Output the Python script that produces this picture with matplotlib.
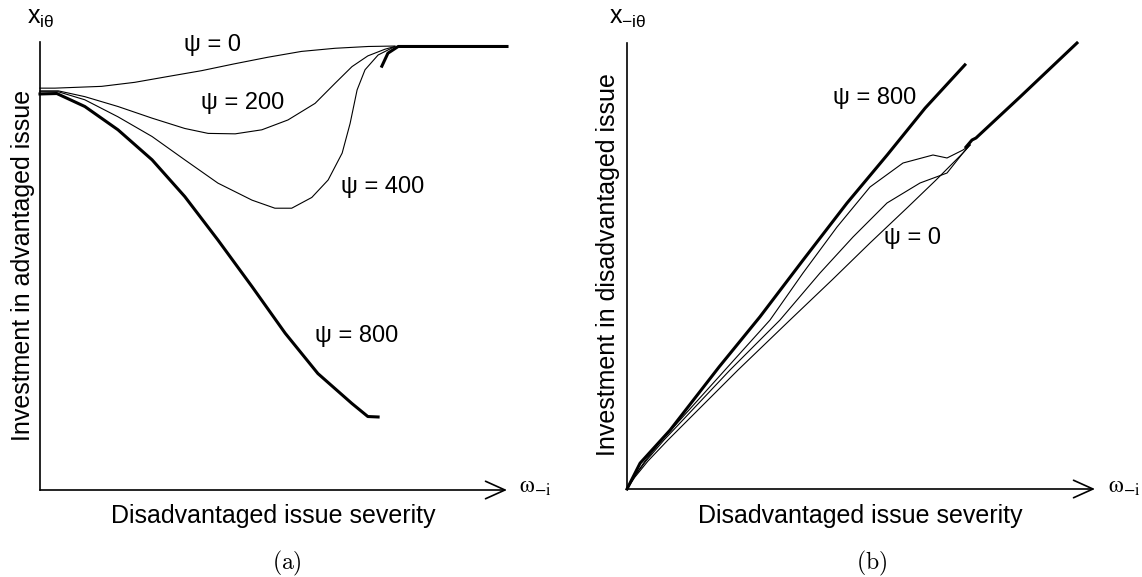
import matplotlib.pyplot as plt

plt.rcParams['font.family'] = ['Liberation Sans', 'DejaVu Sans']
plt.rcParams['mathtext.fontset'] = 'custom'
plt.rcParams['mathtext.rm'] = 'Liberation Sans'
plt.rcParams['mathtext.it'] = 'Liberation Sans:italic'

# ---- panel (a): investment in advantaged issue vs severity (arbitrary units 0-100)
a_x0 = [0, 3.2, 13.2, 20.3, 27.4, 34.6, 41.5, 48.8, 56.0, 63.2, 70.3, 76.0]
a_y0 = [89.7, 89.7, 90.1, 91.0, 92.3, 93.6, 95.1, 96.6, 97.9, 98.6, 99.0, 99.1]
a_x200 = [0, 3.9, 9.6, 16.7, 24.0, 31.0, 36.0, 41.8, 47.5, 53.1, 58.9, 63.2, 66.8, 70.2, 73.9, 76.0]
a_y200 = [89.1, 89.1, 87.8, 85.6, 83.0, 80.7, 79.6, 79.5, 80.4, 82.6, 86.3, 90.8, 94.5, 96.9, 98.4, 99.0]
a_x400 = [0, 3.9, 9.6, 16.7, 24.0, 31.0, 38.1, 45.4, 50.3, 53.9, 58.2, 61.7, 64.7, 66.4, 67.9, 69.6, 72.4, 76.0]
a_y400 = [88.9, 88.9, 87.1, 83.3, 78.9, 73.7, 68.5, 64.7, 62.9, 62.9, 65.3, 69.2, 75.2, 81.8, 89.3, 93.8, 97.1, 99.0]
a_x800 = [0, 3.6, 9.6, 16.7, 24.0, 31.0, 38.1, 45.4, 52.5, 59.5, 66.8, 70.2, 72.4]
a_y800 = [88.4, 88.5, 85.6, 80.4, 73.7, 65.5, 55.8, 45.4, 35.0, 26.0, 19.3, 16.4, 16.3]
a_x_hook = [73.2, 74.5, 76.7, 100]
a_y_hook = [94.6, 97.5, 99.0, 99.0]

# ---- panel (b): investment in disadvantaged issue vs severity
b_x800 = [0, 2.8, 9.2, 19.7, 28.4, 37.6, 47.0, 55.6, 63.7, 72.2]
b_y800 = [0, 5.8, 13.2, 27.4, 38.6, 51.3, 64.1, 74.9, 85.4, 95.1]
b_x400 = [0, 1.50, 3.85, 7.48, 20.94, 30.56, 37.61, 44.87, 51.92, 58.97, 65.38, 68.38, 71.79, 73.29]
b_y400 = [0, 2.69, 6.28, 10.99, 26.68, 37.89, 48.43, 58.74, 67.71, 73.09, 74.89, 74.22, 76.01, 77.13]
b_x200 = [0, 1.50, 4.06, 7.91, 22.01, 32.69, 41.24, 48.29, 55.56, 62.61, 68.38, 71.79, 73.29]
b_y200 = [0, 2.69, 6.28, 10.99, 26.68, 37.89, 48.43, 56.50, 64.13, 68.61, 70.85, 75.34, 77.13]
b_x0 = [0, 1.71, 4.49, 8.76, 23.72, 34.83, 43.80, 51.92, 60.04, 66.03, 71.79, 73.29]
b_y0 = [0, 2.69, 6.28, 10.99, 26.68, 37.89, 46.86, 55.16, 63.23, 69.28, 75.34, 77.13]
b_x_up = [72.44, 73.72, 74.57, 83.97, 96.15]
b_y_up = [76.68, 78.25, 78.70, 87.89, 100]

W, H = 1142, 577
fig = plt.figure(figsize=(W / 100, H / 100), dpi=100)


def fx(p):
    return p / W


def fy(p):
    return 1 - p / H


def make_axes(left, right, top, bottom):
    ax = fig.add_axes([fx(left), fy(bottom), (right - left) / W, (bottom - top) / H])
    ax.set_xlim(0, 100)
    ax.set_ylim(0, 100)
    ax.axis('off')
    ax.plot([0, 0], [0, 100], color='black', lw=1.2, clip_on=False)
    ax.annotate('', xy=(100, 0), xytext=(0, 0), xycoords='data',
                arrowprops=dict(arrowstyle='->,head_length=1.0,head_width=0.45',
                                lw=1.2, color='black', mutation_scale=14,
                                shrinkA=0, shrinkB=0))
    return ax


thin = 0.8
thick = 2.2

ax1 = make_axes(40, 507, 42, 490)
ax1.plot(a_x0, a_y0, color='black', lw=thin, clip_on=False)
ax1.plot(a_x200, a_y200, color='black', lw=thin, clip_on=False)
ax1.plot(a_x400, a_y400, color='black', lw=thin, clip_on=False)
ax1.plot(a_x800, a_y800, color='black', lw=thick, clip_on=False)
ax1.plot(a_x_hook, a_y_hook, color='black', lw=thick, clip_on=False)

ax2 = make_axes(627, 1095, 43, 489)
ax2.plot(b_x0, b_y0, color='black', lw=thin, clip_on=False)
ax2.plot(b_x200, b_y200, color='black', lw=thin, clip_on=False)
ax2.plot(b_x400, b_y400, color='black', lw=thin, clip_on=False)
ax2.plot(b_x800, b_y800, color='black', lw=thick, clip_on=False)
ax2.plot(b_x_up, b_y_up, color='black', lw=thick, clip_on=False)

lab = 17
fig.text(fx(213), fy(45), 'ψ = 0', fontsize=lab, ha='center', va='center')
fig.text(fx(243), fy(103), 'ψ = 200', fontsize=lab, ha='center', va='center')
fig.text(fx(383), fy(187), 'ψ = 400', fontsize=lab, ha='center', va='center')
fig.text(fx(357), fy(336), 'ψ = 800', fontsize=lab, ha='center', va='center')
fig.text(fx(875), fy(98), 'ψ = 800', fontsize=lab, ha='center', va='center')
fig.text(fx(913), fy(238), 'ψ = 0', fontsize=lab, ha='center', va='center')

fig.text(fx(27), fy(18), r'$\mathrm{x}_{\mathrm{i\theta}}$', fontsize=18, ha='left', va='center')
fig.text(fx(609), fy(18), r'$\mathrm{x}_{-\mathrm{i\theta}}$', fontsize=18, ha='left', va='center')
fig.text(fx(519), fy(487), r'$\mathrm{\omega}_{-\mathrm{i}}$', fontsize=17, ha='left', va='center',
         math_fontfamily='stix')
fig.text(fx(1108), fy(487), r'$\mathrm{\omega}_{-\mathrm{i}}$', fontsize=17, ha='left', va='center',
         math_fontfamily='stix')

fig.text(fx(23), fy(265), 'Investment in advantaged issue', fontsize=18,
         rotation=90, ha='center', va='center')
fig.text(fx(608), fy(265), 'Investment in disadvantaged issue', fontsize=18,
         rotation=90, ha='center', va='center')
fig.text(fx(273), fy(516), 'Disadvantaged issue severity', fontsize=18, ha='center', va='center')
fig.text(fx(860), fy(516), 'Disadvantaged issue severity', fontsize=18, ha='center', va='center')

fig.text(fx(287), fy(563), r'$\mathrm{(a)}$', fontsize=17, ha='center', va='center',
         math_fontfamily='cm')
fig.text(fx(872), fy(563), r'$\mathrm{(b)}$', fontsize=17, ha='center', va='center',
         math_fontfamily='cm')

fig.savefig('out.png', dpi=100)
